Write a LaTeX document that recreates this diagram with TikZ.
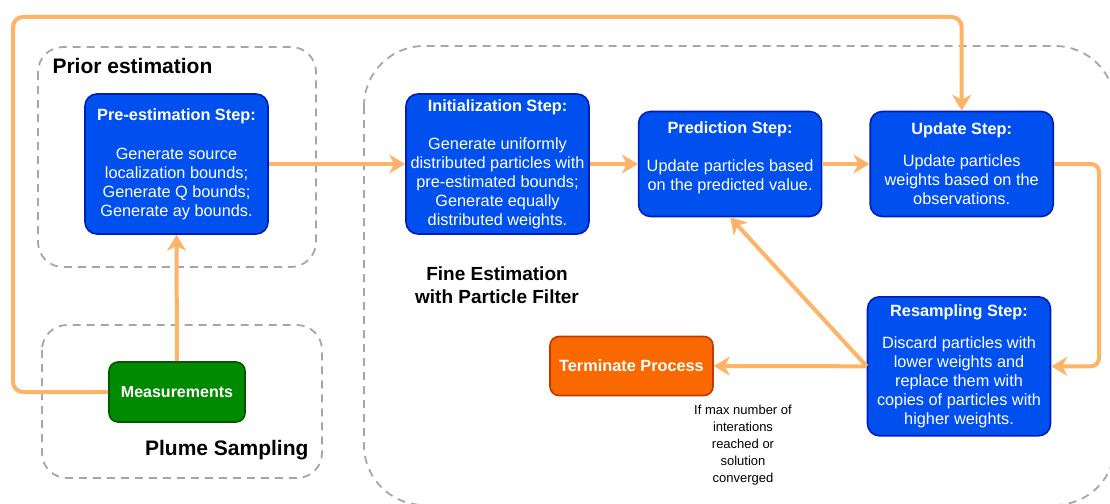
\documentclass[tikz,border=0pt]{standalone}
\usepackage{fontspec}
\setmainfont{Liberation Sans}
\usetikzlibrary{arrows.meta,positioning}
\definecolor{stepblue}{HTML}{0050EF}
\definecolor{stepedge}{HTML}{001DBC}
\definecolor{measgreen}{HTML}{008A00}
\definecolor{measedge}{HTML}{005700}
\definecolor{stoporange}{HTML}{FA6800}
\definecolor{stopedge}{HTML}{C73500}
\definecolor{flowline}{HTML}{FFB366}
\definecolor{groupline}{HTML}{A6A6A6}
\tikzset{
    stepbox/.style={rectangle,rounded corners=12pt,draw=stepedge,fill=stepblue,line width=1.6pt,text=white,align=center,minimum width=183pt,inner sep=0pt,font=\fontsize{16.3}{19}\selectfont},
    measbox/.style={rectangle,rounded corners=9pt,draw=measedge,fill=measgreen,line width=1.6pt,text=white,minimum width=136pt,minimum height=60pt,font=\fontsize{16}{19}\selectfont\bfseries},
    stopbox/.style={rectangle,rounded corners=9pt,draw=stopedge,fill=stoporange,line width=1.6pt,text=white,minimum width=163pt,minimum height=59pt,font=\fontsize{16.3}{19}\selectfont\bfseries},
    group/.style={draw=groupline,line width=1.8pt,dash pattern=on 8pt off 6pt},
    grouptitle/.style={font=\fontsize{21}{24}\selectfont\bfseries,align=center},
    note/.style={align=center,font=\fontsize{13}{17}\selectfont},
    flow/.style={-{Stealth[length=16pt,width=19pt,inset=5pt]},draw=flowline,line width=4pt}
}

\begin{document}
\begin{tikzpicture}[x=1pt,y=-1pt]

    \useasboundingbox (0,0) rectangle (1110,503);

    % dashed groups
    \draw[group,rounded corners=25pt] (38,47) rectangle (316,267);
    \draw[group,rounded corners=25pt] (42,325) rectangle (322,478);
    \draw[group,rounded corners=60pt] (364,46) rectangle (1115,505);

    \node[grouptitle,anchor=west] (prior title) at (49,66) {Prior estimation};
    \node[grouptitle,anchor=east] (plume title) at (312,450) {Plume Sampling};
    \node[grouptitle,font=\fontsize{19}{23}\selectfont\bfseries] (fine title) at (497,285) {Fine Estimation\\with Particle Filter};

    % steps
    \node[stepbox,minimum height=140pt] (pre est) at (176.5,164)
        {\textbf{Pre-estimation Step:}\\[20pt]Generate source\\localization bounds;\\Generate Q bounds;\\Generate ay bounds.};
    \node[stepbox,minimum height=140pt] (init) at (497.5,164)
        {\textbf{Initialization Step:}\\[19pt]Generate uniformly\\distributed particles with\\pre-estimated bounds;\\Generate equally\\distributed weights.};
    \node[stepbox,minimum height=105pt] (pred) [right=48pt of init]
        {\textbf{Prediction Step:}\\[19pt]Update particles based\\on the predicted value.\\[-4pt]};
    \node[stepbox,minimum height=105pt] (update) [right=47pt of pred]
        {\textbf{Update Step:}\\[13pt]Update particles\\weights based on the\\observations.};
    \node[stepbox,minimum height=139pt,anchor=north] (resample) at (959,296)
        {\textbf{Resampling Step:}\\[13pt]Discard particles with\\lower weights and\\replace them with\\copies of particles with\\higher weights.};

    \node[measbox] (meas) at (177,392) {Measurements};
    \node[stopbox] (terminate) at (631.5,366) {Terminate Process};
    \node[note] (stop rule) at (743,445) {If max number of\\interations\\reached or\\solution\\converged};

    % connectors
    \coordinate (loop corner) at (13,17);
    \draw[flow] (meas.north) -- (pre est.south);
    \draw[flow] (pre est.east) -- (init.west);
    \draw[flow] (init.east) -- (pred.west);
    \draw[flow] (pred.east) -- (update.west);
    \draw[flow,rounded corners=8pt] (update.east) -- ++(45,0) |- (resample.east);
    \draw[flow] (resample.west) -- (terminate.east);
    \draw[flow] (resample.west) -- (pred.south);
    \draw[flow,rounded corners=10pt] (meas.west) -| (loop corner) -| (update.north);

\end{tikzpicture}
\end{document}
